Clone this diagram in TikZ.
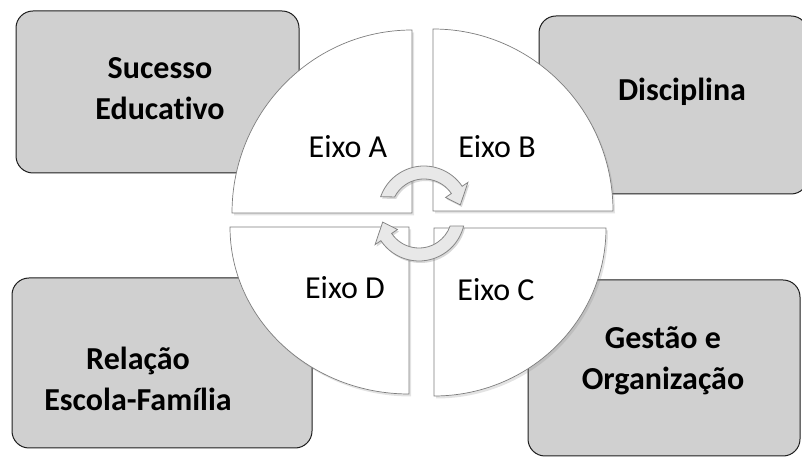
\documentclass[tikz,border=0pt]{standalone}
\usepackage{fontspec}
\setmainfont{Carlito}[Ligatures=NoCommon]
\usetikzlibrary{shadows}
\definecolor{boxgray}{RGB}{208,208,208}
\definecolor{boxline}{RGB}{30,30,30}
\definecolor{piecedraw}{RGB}{125,125,125}
\definecolor{arrowfill}{RGB}{232,232,232}
\definecolor{arrowdraw}{RGB}{135,135,135}
\begin{document}
\begin{tikzpicture}[x=1pt,y=1pt,
  box/.style={draw=boxline, line width=1pt, fill=boxgray, rounded corners=17pt, inner sep=0pt},
  boxtext/.style={font=\fontsize{32}{41}\selectfont\bfseries, align=center, text=black, inner sep=0pt},
  piece/.style={fill=white, draw=piecedraw, line width=0.7pt, drop shadow={opacity=0.22, shadow xshift=2pt, shadow yshift=-2.5pt}},
  eixo/.style={font=\fontsize{32}{38}\selectfont, text=black, inner sep=0pt},
  cyc/.style={fill=arrowfill, draw=arrowdraw, line width=0.8pt, drop shadow={opacity=0.3, shadow xshift=1.5pt, shadow yshift=-2pt}}
]
\useasboundingbox (0,0) rectangle (802,457);
% outer boxes
\node[box, minimum width=283pt, minimum height=162pt] (boxS) at (157.5,365) {};
\node[box, minimum width=269pt, minimum height=178pt] (boxDi) at (673.5,352) {};
\node[box, minimum width=300pt, minimum height=170pt] (boxR) at (162,94) {};
\node[box, minimum width=272pt, minimum height=176pt] (boxG) at (664,89) {};
\node[boxtext] (tS) at (160,368.5) {Sucesso\\Educativo};
\node[boxtext] (tDi) at (682,365) {Disciplina};
\node[boxtext] (tR) at (138,78) {Relação\\Escola-Família};
\node[boxtext] (tG) at (663,96) {Gestão e\\Organização};
% quarter pieces
\draw[piece] (412,244) -- (232,244) arc[start angle=180, end angle=90, x radius=180, y radius=183] -- cycle;
\draw[piece] (433,246) -- (433,428) arc[start angle=90, end angle=0, x radius=180, y radius=182] -- cycle;
\draw[piece] (434,229) -- (606,229) arc[start angle=0, end angle=-90, x radius=172, y radius=168] -- cycle;
\draw[piece] (409,230) -- (409,63) arc[start angle=-90, end angle=-180, x radius=179, y radius=167] -- cycle;
\node[eixo] (eA) at (348,310) {Eixo A};
\node[eixo] (eB) at (497,310) {Eixo B};
\node[eixo] (eC) at (496,167) {Eixo C};
\node[eixo] (eD) at (345,169) {Eixo D};
% cycle arrows
\begin{scope}[shift={(424,245)}]
\draw[cyc] (160.5:46) arc[start angle=160.5, end angle=34, radius=46] -- (34:53) -- (11:37) -- (34:26) -- (34:33) arc[start angle=34, end angle=152.9, radius=33] -- cycle;
\end{scope}
\begin{scope}[shift={(419,242)}]
\draw[cyc] (-13.8:46) arc[start angle=-13.8, end angle=-146, radius=46] -- (-146:53) -- (-169:37) -- (-146:26) -- (-146:33) arc[start angle=-146, end angle=-19.5, radius=33] -- cycle;
\end{scope}
\end{tikzpicture}
\end{document}
